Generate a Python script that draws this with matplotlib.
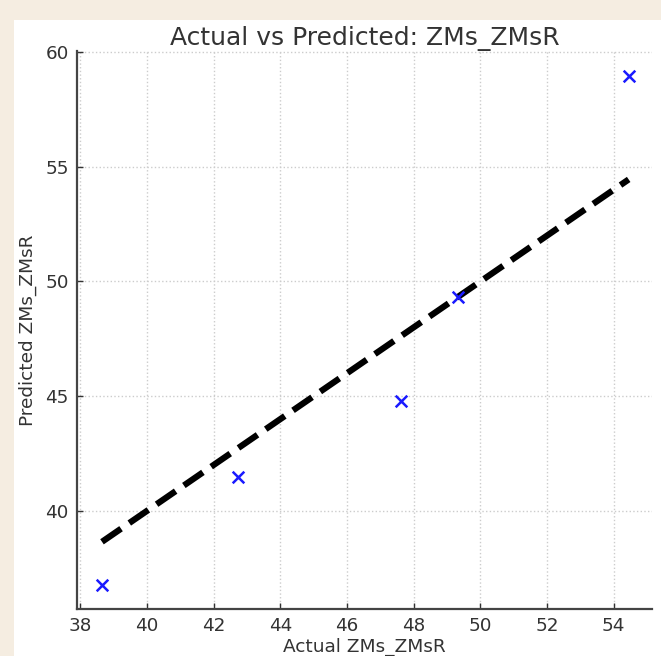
import numpy as np
import matplotlib.pyplot as plt
from matplotlib.patches import Rectangle

# actual vs predicted values
actual = [38.65, 42.72, 47.62, 49.32, 54.45]
predicted = [36.77, 41.48, 44.77, 49.32, 58.97]

fig = plt.figure(figsize=(6.61, 6.56), dpi=100)
fig.patch.set_facecolor('#f5ede1')
# white panel inside the beige frame
fig.patches.append(Rectangle((14/661, 0), 1 - 14/661, 1 - 20/656,
                             transform=fig.transFigure, facecolor='white',
                             edgecolor='none', zorder=-10))

ax = fig.add_axes([77/661, 47/656, 575/661, 558/656])
ax.set_facecolor('white')

ax.scatter(actual, predicted, marker='x', color='#1a1aff', s=70, linewidths=1.8, zorder=3)
lo, hi = min(actual), max(actual)
ax.plot([lo, hi], [lo, hi], 'k--', linewidth=4.5, zorder=2)

ax.set_xlim(37.9, 55.15)
ax.set_ylim(35.72, 60.05)
ax.set_xticks(np.arange(38, 55, 2))
ax.set_yticks(np.arange(40, 61, 5))

ax.grid(True, linestyle=':', color='#cccccc', linewidth=1)
ax.set_axisbelow(True)
for s in ['top', 'right']:
    ax.spines[s].set_visible(False)
for s in ['left', 'bottom']:
    ax.spines[s].set_color('#444444')
    ax.spines[s].set_linewidth(1.6)

ax.tick_params(labelsize=13.2, colors='#333333', direction='in', length=4.5, width=1, pad=6)
ax.set_title('Actual vs Predicted: ZMs_ZMsR', fontsize=18, color='#333333', pad=3)
ax.set_xlabel('Actual ZMs_ZMsR', fontsize=13.3, color='#333333', labelpad=2)
ax.set_ylabel('Predicted ZMs_ZMsR', fontsize=13.3, color='#333333', labelpad=6)

fig.savefig('out.png', dpi=100)
